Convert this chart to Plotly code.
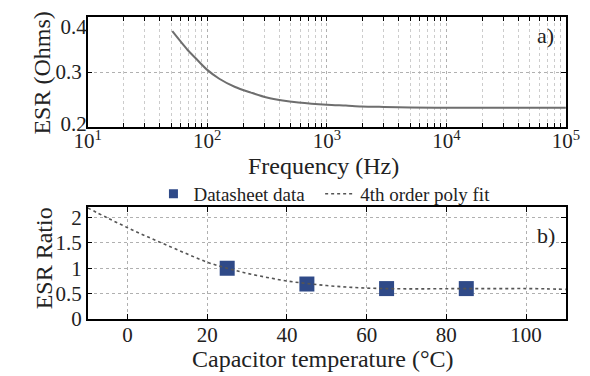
import plotly.graph_objects as go

# ---- data ----
freq_hz = [51, 60, 68.5, 80, 100, 126, 171, 232, 315, 427, 578, 1000, 1442, 1950, 3000, 5000, 10000, 100000]
esr_ohms = [0.374, 0.355, 0.340, 0.325, 0.304, 0.288, 0.273, 0.263, 0.254, 0.2485, 0.245, 0.241,
            0.2395, 0.238, 0.237, 0.236, 0.2357, 0.2355]

temp_data = [25, 45, 65, 85]
ratio_data = [1.0, 0.69, 0.60, 0.60]

temp_fit = [-10, -5, 0, 5, 10, 15, 20, 25, 30, 35, 40, 45, 50, 55, 60, 65, 70, 75, 80, 85, 90, 95, 100, 105, 110]
ratio_fit = [2.19, 1.99, 1.80, 1.62, 1.45, 1.28, 1.12, 1.00, 0.90, 0.82, 0.75, 0.70, 0.66, 0.63, 0.61, 0.60,
             0.595, 0.595, 0.598, 0.60, 0.60, 0.60, 0.60, 0.595, 0.585]

freq_tickvals = [10, 100, 1000, 10000, 100000]
freq_ticktext = ["10<sup>1</sup>", "10<sup>2</sup>", "10<sup>3</sup>", "10<sup>4</sup>", "10<sup>5</sup>"]
freq_minor = [m * d for d in (10, 100, 1000, 10000) for m in range(2, 10)]

temp_tickvals = [0, 20, 40, 60, 80, 100]
esr_tickvals = [0.2, 0.3, 0.4]
ratio_tickvals = [0, 0.5, 1, 1.5, 2]
ratio_ticktext = ["0", "0.5", "1", "1.5", "2"]

x_dom = [69 / 590, 571 / 590]
top_dom = [1 - 122 / 376, 1 - 7 / 376]
bot_dom = [1 - 321 / 376, 1 - 205 / 376]

FONT = "Liberation Serif"
TXT = "#222222"
grid_major = "#b0b0b0"
grid_minor = "#cccccc"
SQUARE = "#2f4a88"
ESR_RANGE = [0.19999, 0.40001]

fig = go.Figure()

fig.add_trace(go.Scatter(
    x=freq_hz, y=esr_ohms, mode="lines", line=dict(color="#6e6e6e", width=2, shape="spline", smoothing=0.8),
    showlegend=False, xaxis="x", yaxis="y"))

# helper axes carrying the end labels of the ESR axis (nudged inside like the reference)
fig.add_trace(go.Scatter(x=[None], y=[None], showlegend=False, hoverinfo="skip", xaxis="x", yaxis="y3"))
fig.add_trace(go.Scatter(x=[None], y=[None], showlegend=False, hoverinfo="skip", xaxis="x", yaxis="y4"))

fig.add_trace(go.Scatter(
    x=temp_data, y=ratio_data, mode="markers", name="Datasheet data", showlegend=False,
    marker=dict(symbol="square", size=15, color=SQUARE, line=dict(width=0)),
    xaxis="x2", yaxis="y2"))

# legend entry with the smaller legend square seen in the reference
fig.add_trace(go.Scatter(
    x=[None], y=[None], mode="markers", name="Datasheet data", legend="legend",
    marker=dict(symbol="square", size=9, color=SQUARE, line=dict(width=0)),
    xaxis="x2", yaxis="y2"))

fig.add_trace(go.Scatter(
    x=temp_fit, y=ratio_fit, mode="lines", name="4th order poly fit", legend="legend2",
    line=dict(color="#555555", width=1.6, dash="3px,3px", shape="spline"),
    xaxis="x2", yaxis="y2"))

axis_common = dict(
    showline=True, linecolor="black", linewidth=1.5, mirror="allticks",
    ticks="inside", ticklen=5, tickcolor="black", tickwidth=1,
    showgrid=True, gridcolor=grid_major, griddash="dot", gridwidth=1,
    zeroline=False, tickfont=dict(family=FONT, size=21, color=TXT),
)

label_axis = dict(
    overlaying="y", anchor="x", side="left", range=ESR_RANGE, showgrid=False, showline=False,
    zeroline=False, ticks="", tickfont=dict(family=FONT, size=21, color=TXT),
)

title_style = dict(xref="paper", yref="paper", showarrow=False,
                   font=dict(family=FONT, size=24, color=TXT))

legend_style = dict(orientation="h", xanchor="left", y=1 - 191 / 376, yanchor="middle",
                    font=dict(family=FONT, size=19, color=TXT), bgcolor="rgba(0,0,0,0)",
                    itemwidth=30)

fig.update_layout(
    width=590, height=376,
    margin=dict(l=0, r=0, t=0, b=0),
    paper_bgcolor="white", plot_bgcolor="white",
    font=dict(family=FONT, color=TXT),
    xaxis=dict(axis_common, domain=x_dom, anchor="y", type="log", range=[0.99999, 5.00001],
               tickvals=freq_tickvals, ticktext=freq_ticktext, ticklabelstandoff=-6,
               minor=dict(tickmode="array", tickvals=freq_minor, ticks="inside", ticklen=3,
                          tickcolor="black", showgrid=True,
                          gridcolor=grid_minor, griddash="dot", gridwidth=1)),
    yaxis=dict(axis_common, domain=top_dom, anchor="x", range=ESR_RANGE,
               tickvals=esr_tickvals,
               ticktext=["" if v in (esr_tickvals[0], esr_tickvals[-1]) else f"{v:.1f}" for v in esr_tickvals]),
    yaxis3=dict(label_axis, tickvals=[esr_tickvals[-1]], ticktext=[f"{esr_tickvals[-1]:.1f}"],
                ticklabelshift=10),
    yaxis4=dict(label_axis, tickvals=[esr_tickvals[0]], ticktext=[f"{esr_tickvals[0]:.1f}"],
                ticklabelshift=-4),
    xaxis2=dict(axis_common, domain=x_dom, anchor="y2", range=[-10, 110],
                tickvals=temp_tickvals, ticklabelstandoff=-4),
    yaxis2=dict(axis_common, domain=bot_dom, anchor="x2", range=[0, 2.2],
                tickvals=ratio_tickvals, ticktext=ratio_ticktext),
    legend=dict(legend_style, x=138 / 590),
    legend2=dict(legend_style, x=313 / 590),
    annotations=[
        dict(title_style, text="Frequency (Hz)", x=317 / 590, y=1 - 162 / 376,
             xanchor="center", yanchor="middle"),
        dict(title_style, text="Capacitor temperature (°C)", x=315 / 590, y=1 - 362 / 376,
             xanchor="center", yanchor="middle"),
        dict(title_style, text="ESR (Ohms)", x=21 / 590, y=1 - 66 / 376, textangle=-90,
             xanchor="center", yanchor="middle"),
        dict(title_style, text="ESR Ratio", x=23 / 590, y=1 - 258 / 376, textangle=-90,
             xanchor="center", yanchor="middle"),
        dict(title_style, text="a)", x=561 / 590, y=1 - 27 / 376, font=dict(family=FONT, size=22, color=TXT),
             xanchor="right", yanchor="middle"),
        dict(title_style, text="b)", x=562 / 590, y=1 - 234 / 376, font=dict(family=FONT, size=22, color=TXT),
             xanchor="right", yanchor="middle"),
    ],
)

fig.write_html("out.html")
